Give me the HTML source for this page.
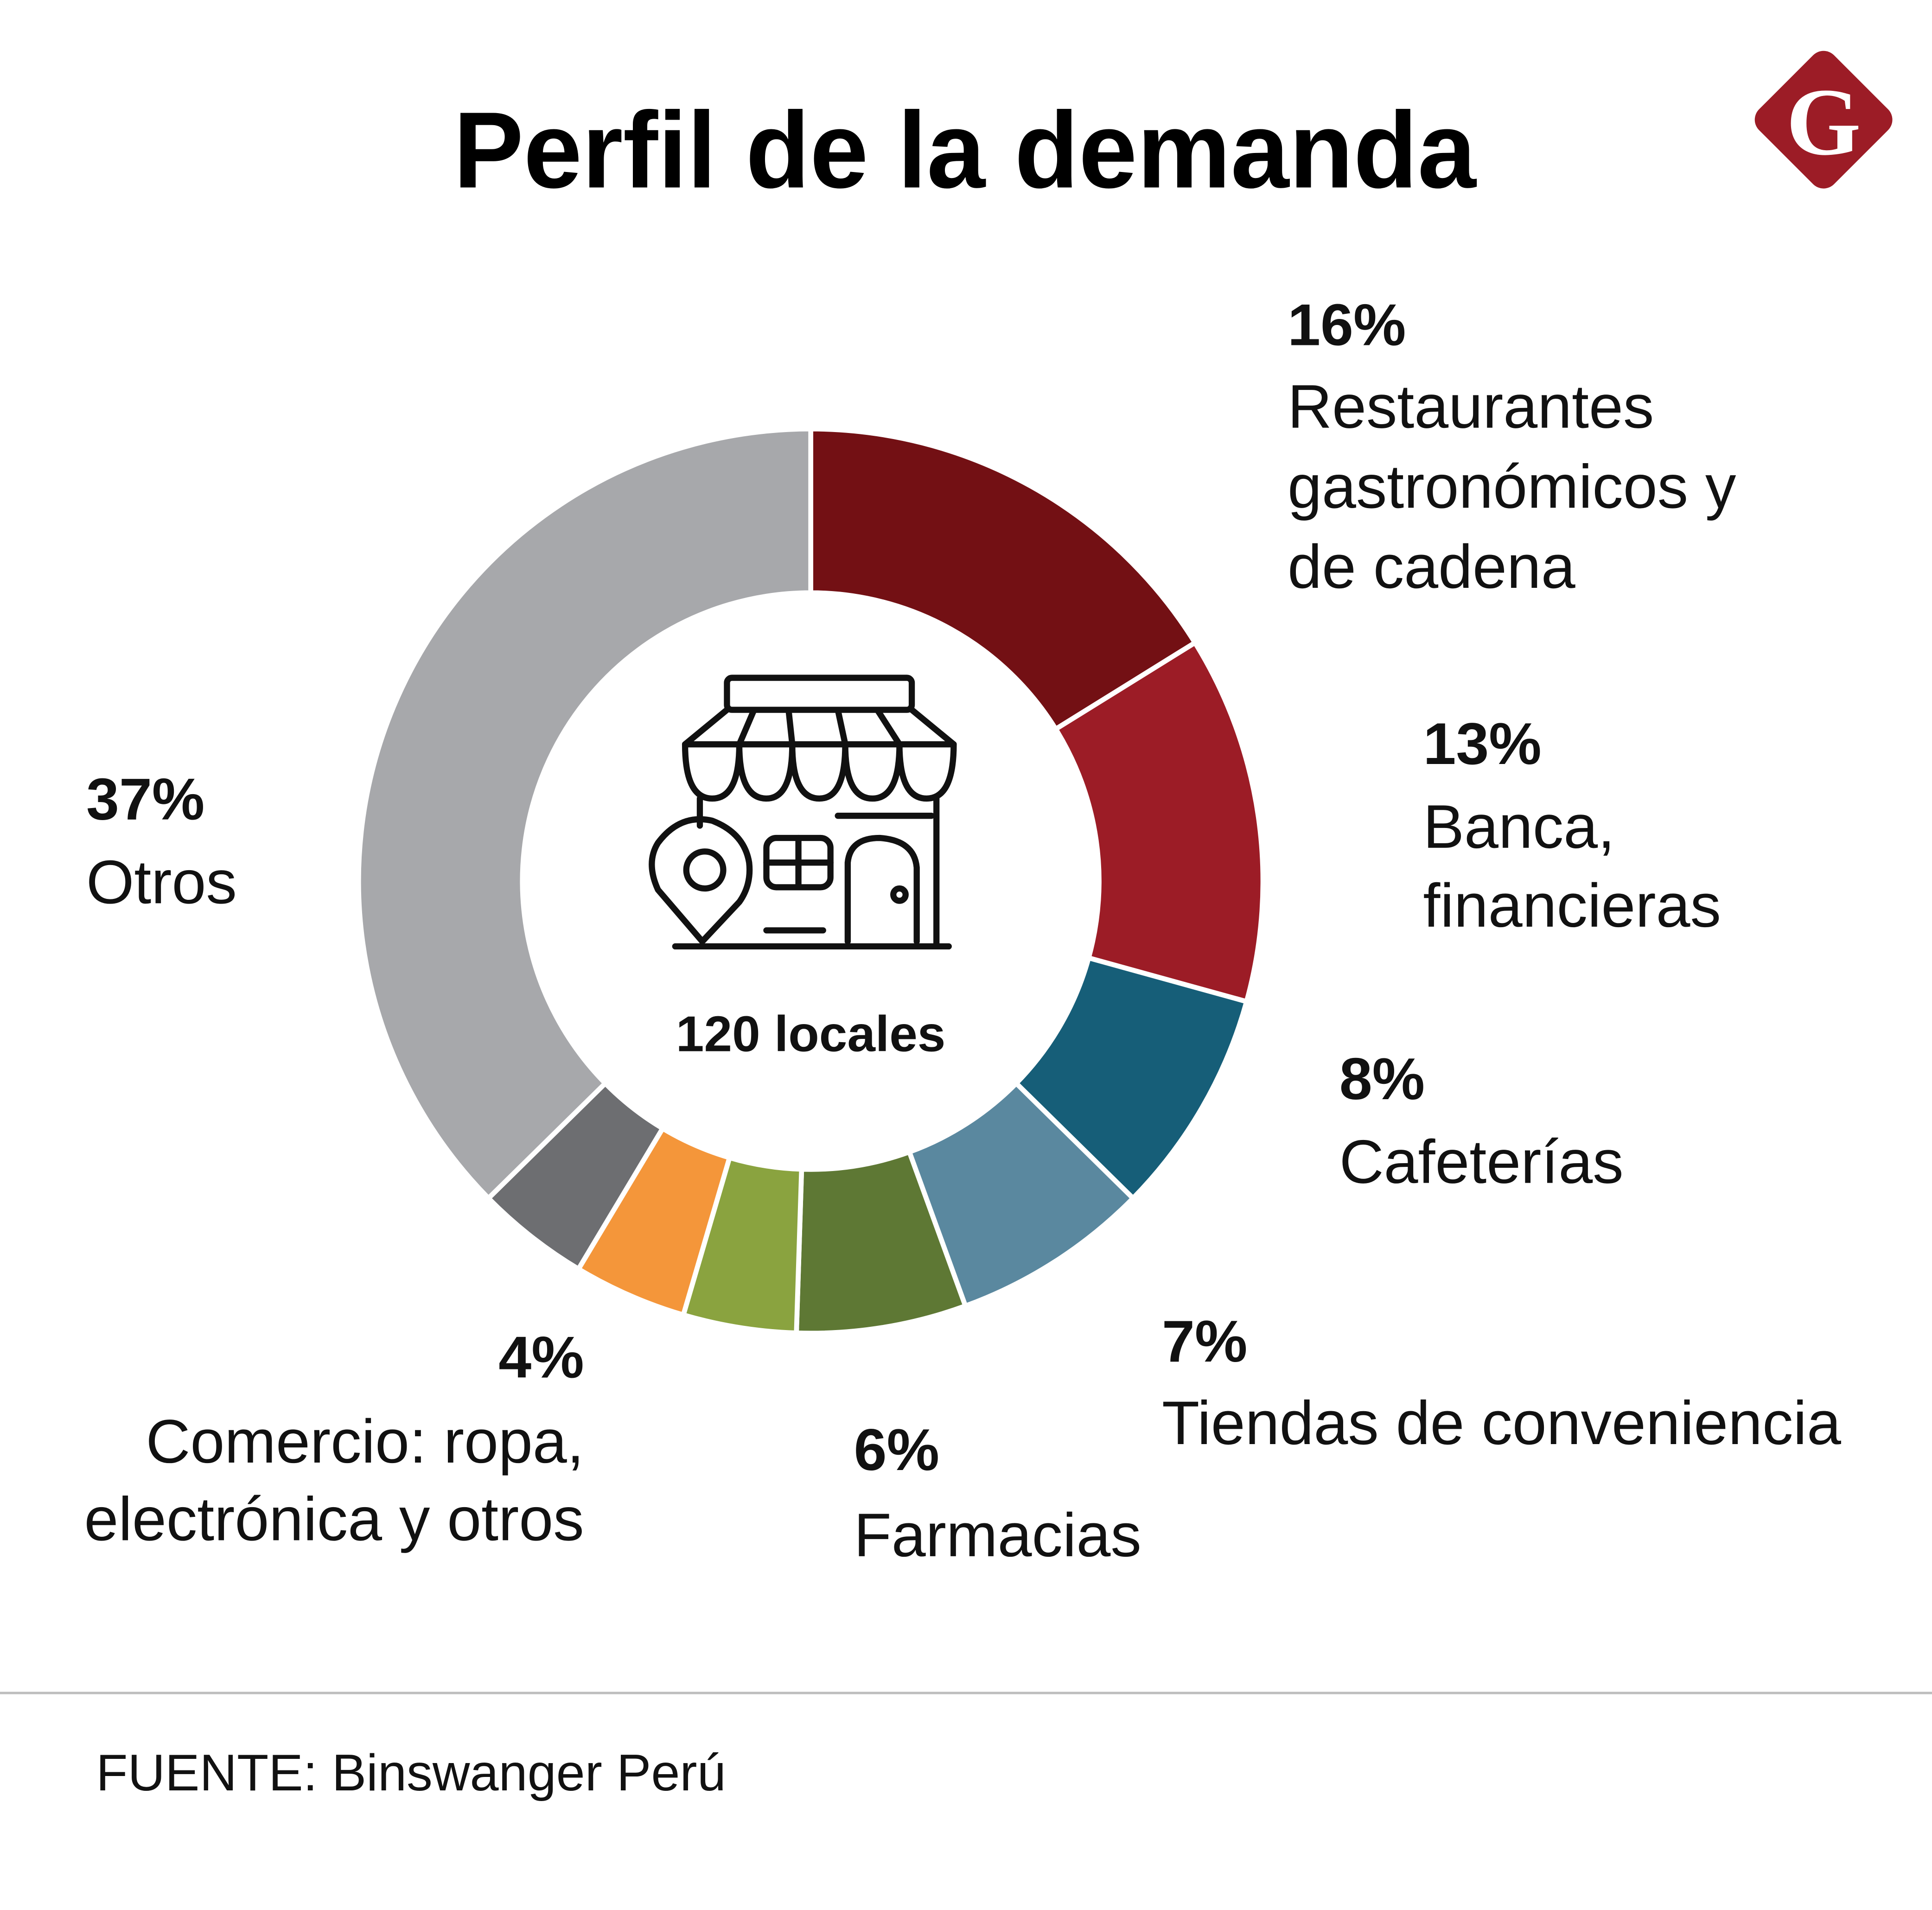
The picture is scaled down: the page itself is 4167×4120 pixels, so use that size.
<!DOCTYPE html>
<html><head><meta charset="utf-8"><style>
html,body{margin:0;padding:0;background:#fff;}
svg{display:block;}
text{font-family:"Liberation Sans",sans-serif;fill:#111;}
.pct{font-weight:bold;font-size:48px;}
.lbl{font-size:50px;}
</style></head><body>
<svg id="chart" width="4167" height="4120" viewBox="0 0 1568 1550" xmlns="http://www.w3.org/2000/svg">
<rect width="1568" height="1550" fill="#fff"/>
<text x="783" y="152" text-anchor="middle" font-weight="bold" font-size="88" textLength="830" lengthAdjust="spacingAndGlyphs" style="fill:#000">Perfil de la demanda</text>
<g>
<rect x="1437" y="54" width="86" height="86" rx="12" transform="rotate(45 1480 97)" fill="#9c1c26"/>
<text x="1480" y="125" text-anchor="middle" font-weight="bold" font-size="78" style="fill:#fff;font-family:'Liberation Serif',serif">G</text>
</g>
<g id="slices"></g>
<g fill="none" stroke="#111" stroke-width="5" stroke-linecap="round" stroke-linejoin="round">
<rect x="590" y="550" width="150" height="26" rx="4"/>
<path d="M590 576 L556 604 L774 604 L740 576"/>
<path d="M612 576 L600 604 M640 576 L643 604 M680 576 L686 604 M712 576 L730 604"/>
<path d="M556 604 Q556 648 578 648 Q600 648 600 604 Q600 648 622 648 Q643 648 643 604 Q643 648 665 648 Q686 648 686 604 Q686 648 708 648 Q730 648 730 604 Q730 648 752 648 Q774 648 774 604"/>
<path d="M568 648 L568 670 M760 648 L760 766 M680 662 L756 662"/>
<path d="M570 764 L534 722 Q524 700 534 684 Q552 660 578 666 Q604 676 608 700 Q610 718 600 732 Z"/>
<circle cx="572" cy="706" r="15"/>
<rect x="622" y="680" width="52" height="40" rx="8"/>
<path d="M648 680 L648 720 M622 700 L674 700"/>
<path d="M688 764 L688 700 Q690 680 714 680 Q742 682 744 704 L744 764"/>
<circle cx="730" cy="726" r="5"/>
<path d="M622 755 L668 755 M548 768 L770 768"/>
</g>
<text x="658" y="853" text-anchor="middle" font-weight="bold" font-size="41">120 locales</text>
<g>
<text class="pct" x="1045" y="280">16%</text>
<text class="lbl" x="1045" y="347">Restaurantes</text>
<text class="lbl" x="1045" y="412">gastronómicos y</text>
<text class="lbl" x="1045" y="477">de cadena</text>
<text class="pct" x="1155" y="620">13%</text>
<text class="lbl" x="1155" y="688">Banca,</text>
<text class="lbl" x="1155" y="752">financieras</text>
<text class="pct" x="1087" y="892">8%</text>
<text class="lbl" x="1087" y="960">Cafeterías</text>
<text class="pct" x="943" y="1105">7%</text>
<text class="lbl" x="943" y="1172">Tiendas de conveniencia</text>
<text class="pct" x="693" y="1193">6%</text>
<text class="lbl" x="693" y="1263">Farmacias</text>
<text class="pct" x="474" y="1118" text-anchor="end">4%</text>
<text class="lbl" x="474" y="1187" text-anchor="end">Comercio: ropa,</text>
<text class="lbl" x="474" y="1250" text-anchor="end">electrónica y otros</text>
<text class="pct" x="70" y="665">37%</text>
<text class="lbl" x="70" y="733">Otros</text>
</g>
<line x1="0" y1="1374" x2="1568" y2="1374" stroke="#bdbdbd" stroke-width="2"/>
<text x="78" y="1453" font-size="42">FUENTE: Binswanger Perú</text>
</svg>
<script>
const categories = ["Restaurantes","Banca","Cafeterías","Tiendas","Farmacias","Otros verde","Comercio","Otros gris","Otros"];
const values = [16,13,8,7,6,4,4,4,37];
const colors = ["#731014","#9c1c26","#165e78","#5a889f","#5e7834","#8aa33f","#f4963a","#6d6e71","#a7a8ab"];
const cx=658, cy=715, R=367, r=234;
const total = values.reduce((a,b)=>a+b,0);
function pt(a,rad){return [cx+rad*Math.sin(a), cy-rad*Math.cos(a)];}
const g=document.getElementById('slices');
let acc=0;
values.forEach((v,i)=>{
  const a0=acc/total*2*Math.PI; acc+=v; const a1=acc/total*2*Math.PI;
  const large=(a1-a0)>Math.PI?1:0;
  const p0=pt(a0,R),p1=pt(a1,R),q1=pt(a1,r),q0=pt(a0,r);
  const p=document.createElementNS('http://www.w3.org/2000/svg','path');
  p.setAttribute('d',`M${p0} A${R} ${R} 0 ${large} 1 ${p1} L${q1} A${r} ${r} 0 ${large} 0 ${q0} Z`);
  p.setAttribute('fill',colors[i]);
  p.setAttribute('stroke','#fff');
  p.setAttribute('stroke-width','4');
  
  
  g.appendChild(p);
});
</script>
</body></html>
